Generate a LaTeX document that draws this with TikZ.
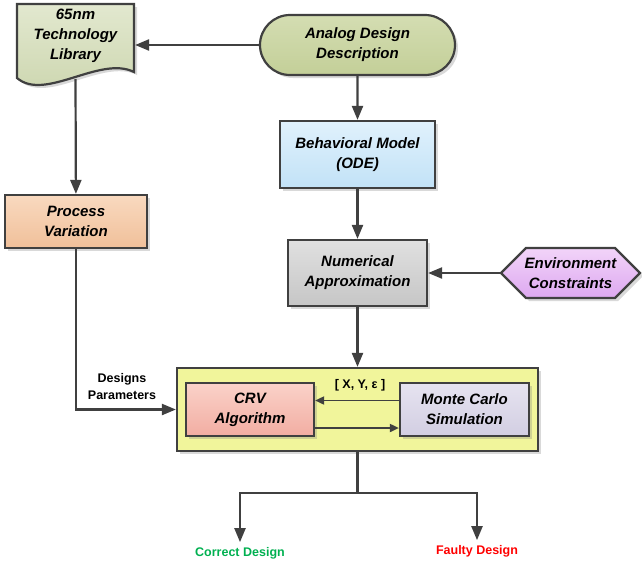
\documentclass[tikz,border=0pt]{standalone}
\usepackage{fontspec}
\setmainfont{Liberation Sans}
\usetikzlibrary{arrows.meta,shapes.misc,shadows}
\definecolor{edge}{HTML}{404040}
\definecolor{libtop}{HTML}{E2E8CF}
\definecolor{libbot}{HTML}{CBD5AD}
\definecolor{anatop}{HTML}{D4DDB2}
\definecolor{anabot}{HTML}{C3CF98}
\definecolor{behtop}{HTML}{E0F1FC}
\definecolor{behbot}{HTML}{C2E2F7}
\definecolor{proctop}{HTML}{F9D9BF}
\definecolor{procbot}{HTML}{F0C09A}
\definecolor{numtop}{HTML}{E0E0E0}
\definecolor{numbot}{HTML}{C6C6C6}
\definecolor{envtop}{HTML}{F2D4F9}
\definecolor{envbot}{HTML}{DDA8F0}
\definecolor{coreyel}{HTML}{F1F59B}
\definecolor{crvtop}{HTML}{FAD2C9}
\definecolor{crvbot}{HTML}{F2ADA2}
\definecolor{mctop}{HTML}{E6E3F0}
\definecolor{mcbot}{HTML}{D2CEE2}
\definecolor{goodgreen}{HTML}{00B050}

\begin{document}
\begin{tikzpicture}
  [x=1pt,y=-1pt,line width=2.2pt,
   every node/.style={font=\bfseries\itshape\fontsize{15}{20}\selectfont,align=center,inner sep=2pt}]
  \tikzstyle{shade} = [drop shadow={opacity=.3,shadow xshift=3pt,shadow yshift=-3pt}]
  \tikzstyle{block} = [draw=edge,rectangle,shade]
  \tikzstyle{link} = [draw=edge,-{Triangle[length=14pt,width=11pt]}]
  \tikzstyle{minilink} = [draw=edge,line width=1.8pt,-{Triangle[length=9pt,width=8pt]}]
  \tikzstyle{tag} = [font=\bfseries\fontsize{12.5}{17}\selectfont]
  \useasboundingbox (0,0) rectangle (642,568);

  % outlines without text
  \path[draw=edge,shade,top color=libtop,bottom color=libbot]
    (17,4) -- (134,4) -- (134,72) .. controls (100,55) and (45,102) .. (17,78) -- cycle;
  \path[draw=edge,shade,top color=envtop,bottom color=envbot]
    (501,273) -- (526,248) -- (615,248) -- (640,273) -- (615,298) -- (526,298) -- cycle;

  \node[minimum width=117pt] (lib) at (75.5,35.5) {65nm\\Technology\\Library};
  \coordinate (libfoot) at (75.5,79);
  \node[draw=edge,rounded rectangle,shade,top color=anatop,bottom color=anabot,
        minimum width=199pt,minimum height=60pt] (analog) at (357.5,45) {Analog Design\\Description};
  \node[block,top color=behtop,bottom color=behbot,minimum width=155pt,minimum height=67pt]
    (beh) at (357.5,154.5) {Behavioral Model\\(ODE)};
  \node[block,top color=proctop,bottom color=procbot,minimum width=142pt,minimum height=53pt]
    (proc) at (76,221.5) {Process\\Variation};
  \node[block,top color=numtop,bottom color=numbot,minimum width=139pt,minimum height=66pt]
    (num) at (357.5,273) {Numerical\\Approximation};
  \node[minimum width=139pt,minimum height=50pt] (env) at (570.5,273) {Environment\\Constraints};
  \node[block,fill=coreyel,minimum width=361pt,minimum height=83pt] (core) at (357.5,409.5) {};
  \node[block,top color=crvtop,bottom color=crvbot,minimum width=128pt,minimum height=53pt]
    (crv) at (250,409.5) {CRV\\Algorithm};
  \node[block,top color=mctop,bottom color=mcbot,minimum width=129pt,minimum height=53pt]
    (mc) at (464.5,409.5) {Monte Carlo\\Simulation};

  \node[tag] (xye) at (360,385) {[ X, Y, ε ]};
  \node[tag] (dp) at (122,386.5) {Designs\\Parameters};
  \node[tag,text=goodgreen,outer sep=3pt] (good) at (240,553) {Correct Design};
  \node[tag,text=red,outer sep=3pt] (bad) at (477,551) {Faulty Design};
  \coordinate (split) at (357.5,493);

  \draw[link] (analog.west) -- (analog.west -| lib.east);
  \foreach \source/\dest in {analog/beh,beh/num,num/core,env/num}
    \draw[link] (\source) -- (\dest);
  \draw[link] (libfoot) -- (proc);
  \draw[link] (proc) |- (core);
  \draw[minilink] ([yshift=9pt]mc.west) -- ([yshift=9pt]crv.east);
  \draw[minilink] ([yshift=-18.5pt]crv.east) -- ([yshift=-18.5pt]mc.west);
  \draw[link] (core.south) -- (split) -| (good);
  \draw[link] (split) -| (bad);

  \end{tikzpicture}
\end{document}
